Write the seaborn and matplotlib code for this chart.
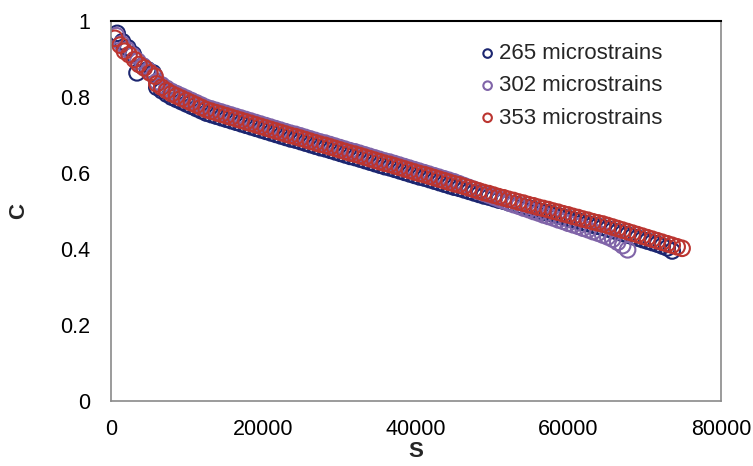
import numpy as np
import pandas as pd
import matplotlib
matplotlib.use("Agg")
import matplotlib.pyplot as plt
import seaborn as sns

# Sparse early readings (cycles S, ratio C) for each strain level
s_early_265 = [800, 1500, 2200, 2900, 3400, 4100, 4800, 5500]
c_early_265 = [0.968, 0.946, 0.930, 0.913, 0.864, 0.882, 0.872, 0.864]
s_early_302 = [700, 1400, 2100, 2800, 3500, 4200, 4900, 5600]
c_early_302 = [0.962, 0.941, 0.925, 0.910, 0.895, 0.882, 0.870, 0.858]
s_early_353 = [500, 1180, 1750, 2360, 3060, 3670, 4360, 5100, 5770]
c_early_353 = [0.955, 0.937, 0.921, 0.912, 0.899, 0.886, 0.877, 0.864, 0.855]

# Regular logging cycles after the first readings
s_grid = [6000, 6650, 7300, 7950, 8600, 9250, 9900, 10550, 11200, 11850,
          12500, 13150, 13800, 14450, 15100, 15750, 16400, 17050, 17700, 18350,
          19000, 19650, 20300, 20950, 21600, 22250, 22900, 23550, 24200, 24850,
          25500, 26150, 26800, 27450, 28100, 28750, 29400, 30050, 30700, 31350,
          32000, 32650, 33300, 33950, 34600, 35250, 35900, 36550, 37200, 37850,
          38500, 39150, 39800, 40450, 41100, 41750, 42400, 43050, 43700, 44350,
          45000, 45650, 46300, 46950, 47600, 48250, 48900, 49550, 50200, 50850,
          51500, 52150, 52800, 53450, 54100, 54750, 55400, 56050, 56700, 57350,
          58000, 58650, 59300, 59950, 60600, 61250, 61900, 62550, 63200, 63850,
          64500, 65150, 65800, 66450, 67100, 67750, 68400, 69050, 69700, 70350,
          71000, 71650, 72300, 72950, 73600, 74250, 74900]

c_265 = [0.826, 0.817, 0.808, 0.800, 0.794, 0.788, 0.782, 0.776, 0.770, 0.764,
         0.758, 0.754, 0.750, 0.746, 0.742, 0.738, 0.734, 0.730, 0.726, 0.722,
         0.718, 0.714, 0.710, 0.706, 0.702, 0.698, 0.694, 0.690, 0.687, 0.683,
         0.679, 0.675, 0.671, 0.667, 0.664, 0.660, 0.656, 0.652, 0.648, 0.644,
         0.641, 0.637, 0.633, 0.629, 0.625, 0.621, 0.617, 0.614, 0.610, 0.606,
         0.602, 0.598, 0.594, 0.590, 0.587, 0.583, 0.579, 0.575, 0.571, 0.567,
         0.563, 0.560, 0.556, 0.552, 0.548, 0.544, 0.540, 0.537, 0.533, 0.529,
         0.526, 0.522, 0.519, 0.515, 0.512, 0.508, 0.505, 0.501, 0.498, 0.495,
         0.491, 0.488, 0.484, 0.481, 0.477, 0.474, 0.470, 0.467, 0.463, 0.460,
         0.457, 0.453, 0.449, 0.445, 0.441, 0.437, 0.433, 0.429, 0.425, 0.421,
         0.417, 0.413, 0.408, 0.403, 0.395]

c_302 = [0.841, 0.832, 0.823, 0.815, 0.809, 0.803, 0.797, 0.791, 0.785, 0.779,
         0.773, 0.769, 0.765, 0.761, 0.757, 0.753, 0.749, 0.745, 0.741, 0.737,
         0.733, 0.729, 0.725, 0.721, 0.717, 0.713, 0.709, 0.705, 0.702, 0.698,
         0.694, 0.690, 0.686, 0.682, 0.679, 0.675, 0.671, 0.667, 0.663, 0.659,
         0.656, 0.652, 0.648, 0.644, 0.640, 0.636, 0.632, 0.629, 0.625, 0.621,
         0.617, 0.613, 0.609, 0.605, 0.601, 0.597, 0.593, 0.589, 0.585, 0.581,
         0.577, 0.572, 0.567, 0.562, 0.557, 0.552, 0.547, 0.542, 0.537, 0.532,
         0.527, 0.522, 0.517, 0.513, 0.508, 0.504, 0.499, 0.495, 0.490, 0.486,
         0.482, 0.477, 0.473, 0.468, 0.464, 0.460, 0.455, 0.451, 0.446, 0.442,
         0.437, 0.432, 0.426, 0.418, 0.409, 0.398]

c_353 = [0.835, 0.826, 0.817, 0.809, 0.803, 0.797, 0.791, 0.785, 0.779, 0.773,
         0.767, 0.763, 0.759, 0.755, 0.751, 0.747, 0.743, 0.739, 0.735, 0.731,
         0.727, 0.723, 0.719, 0.715, 0.711, 0.707, 0.703, 0.699, 0.696, 0.692,
         0.688, 0.684, 0.680, 0.676, 0.673, 0.669, 0.665, 0.661, 0.657, 0.653,
         0.650, 0.646, 0.642, 0.638, 0.634, 0.630, 0.626, 0.623, 0.619, 0.615,
         0.611, 0.607, 0.603, 0.599, 0.596, 0.592, 0.588, 0.584, 0.580, 0.576,
         0.572, 0.569, 0.565, 0.561, 0.557, 0.553, 0.549, 0.546, 0.542, 0.538,
         0.535, 0.531, 0.528, 0.524, 0.521, 0.517, 0.514, 0.510, 0.507, 0.504,
         0.500, 0.497, 0.493, 0.490, 0.486, 0.483, 0.479, 0.476, 0.472, 0.469,
         0.466, 0.462, 0.458, 0.454, 0.450, 0.446, 0.442, 0.438, 0.434, 0.430,
         0.426, 0.422, 0.418, 0.414, 0.410, 0.406, 0.402]

series_labels = ["265 microstrains", "302 microstrains", "353 microstrains"]
series_colors = ["#1c2670", "#8064a8", "#bb3530"]

x_ticks = [0, 20000, 40000, 60000, 80000]
y_ticks = [0, 0.2, 0.4, 0.6, 0.8, 1]
y_tick_labels = ["0", "0.2", "0.4", "0.6", "0.8", "1"]

sns.set_theme(style="white")
plt.rcParams["font.family"] = ["Liberation Sans", "DejaVu Sans"]

fig = plt.figure(figsize=(7.53, 4.66), dpi=100)
ax = fig.add_axes([0.1475, 0.1395, 0.81, 0.815])

frames = []
for s_e, c_e, c_vals, lab in zip([s_early_265, s_early_302, s_early_353],
                                 [c_early_265, c_early_302, c_early_353],
                                 [c_265, c_302, c_353], series_labels):
    s_all = list(s_e) + s_grid[:len(c_vals)]
    c_all = list(c_e) + list(c_vals)
    frames.append(pd.DataFrame({"S": s_all, "C": c_all, "series": lab}))
data = pd.concat(frames, ignore_index=True)

for lab, col in zip(series_labels, series_colors):
    sub = data[data["series"] == lab]
    sns.scatterplot(data=sub, x="S", y="C", ax=ax, marker="o", s=125,
                    facecolor="none", edgecolor=col, linewidth=1.5,
                    label=lab, legend=True)

ax.set_xlim(0, 80000)
ax.set_ylim(0, 1)
ax.set_xticks(x_ticks)
ax.set_xticklabels([str(v) for v in x_ticks])
ax.set_yticks(y_ticks)
ax.set_yticklabels(y_tick_labels)
ax.tick_params(axis="both", direction="in", length=5, width=1,
               color="#555555", labelsize=15.5, labelcolor="black")
ax.tick_params(axis="x", pad=13)
ax.tick_params(axis="y", pad=15)

for side in ["left", "bottom", "right"]:
    ax.spines[side].set_color("#8a8a8a")
    ax.spines[side].set_linewidth(1.2)
ax.spines["top"].set_color("black")
ax.spines["top"].set_linewidth(1.5)

ax.set_xlabel("S", fontsize=16, fontweight="bold", labelpad=1)
ax.set_ylabel("C", fontsize=16, fontweight="bold", labelpad=22)

leg = ax.legend(loc="upper right", bbox_to_anchor=(0.918, 0.965), frameon=False,
                fontsize=16, markerscale=0.55, handletextpad=0.0,
                handlelength=1.0, labelspacing=0.5, borderaxespad=0.0)

fig.savefig("out.png", dpi=100)
